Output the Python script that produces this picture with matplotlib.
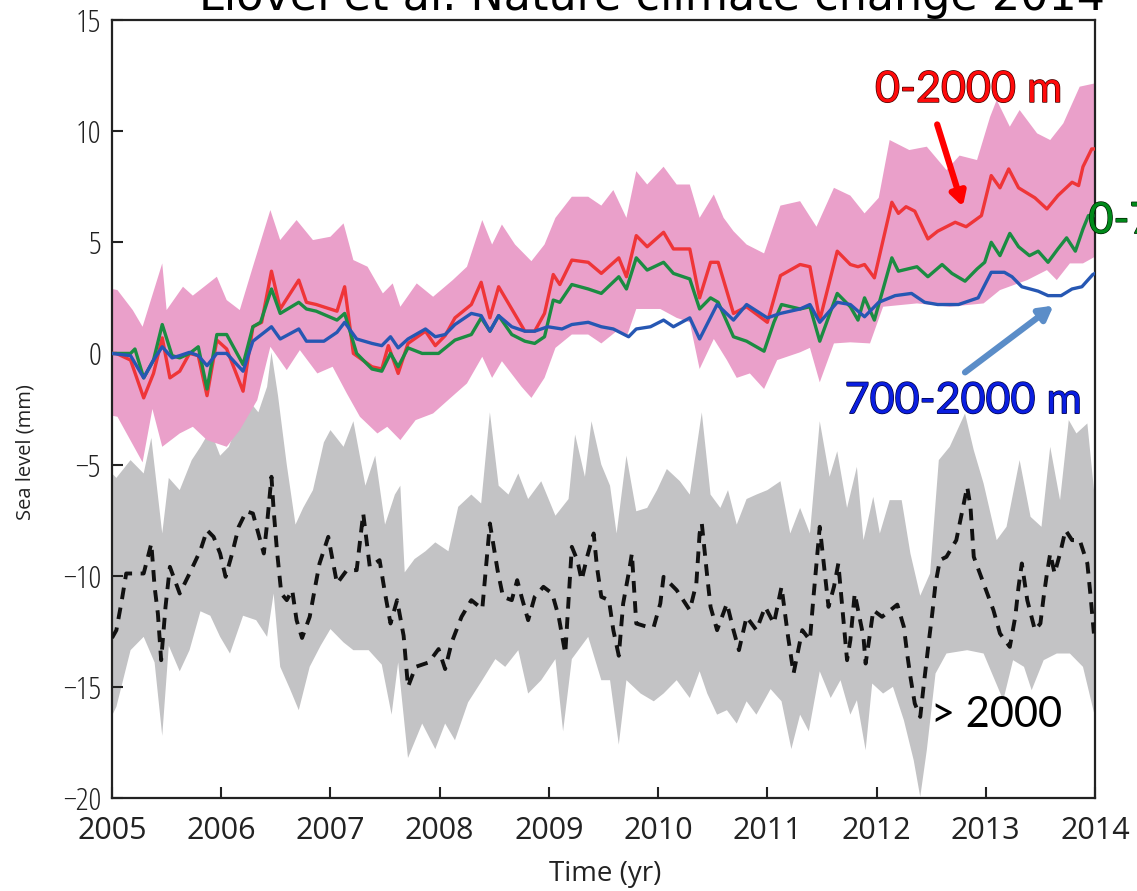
import matplotlib
matplotlib.use("Agg")
import matplotlib.pyplot as plt
import matplotlib.patheffects as pe
import numpy as np

# ---------------- data (time in decimal years, value in mm) ----------------
red_0_2000 = [
    (2005.00, 0.0), (2005.04, 0.0), (2005.17, -0.3), (2005.29, -2.0), (2005.38, -0.9),
    (2005.46, 0.7), (2005.53, -1.1), (2005.62, -0.8), (2005.71, 0.0), (2005.79, -0.1),
    (2005.87, -1.9), (2005.96, 0.6), (2006.05, 0.2), (2006.20, -1.7), (2006.29, 1.2),
    (2006.37, 1.4), (2006.46, 3.7), (2006.54, 2.0), (2006.71, 3.3), (2006.78, 2.3),
    (2006.87, 2.2), (2007.06, 1.9), (2007.13, 3.0), (2007.21, 0.0), (2007.38, -0.6),
    (2007.47, -0.7), (2007.53, 0.35), (2007.62, -0.9), (2007.71, 0.45), (2007.87, 1.0),
    (2007.96, 0.35), (2008.05, 0.8), (2008.14, 1.6), (2008.29, 2.2), (2008.38, 3.2),
    (2008.46, 1.6), (2008.54, 3.0), (2008.66, 2.0), (2008.78, 1.0), (2008.87, 1.0),
    (2008.96, 1.8), (2009.04, 3.55), (2009.10, 3.1), (2009.21, 4.2), (2009.36, 4.1),
    (2009.48, 3.6), (2009.64, 4.3), (2009.71, 3.45), (2009.80, 5.3), (2009.90, 4.8),
    (2010.05, 5.45), (2010.14, 4.7), (2010.29, 4.7), (2010.38, 2.5), (2010.48, 4.1),
    (2010.55, 4.1), (2010.69, 1.8), (2010.81, 2.1), (2011.00, 1.4), (2011.12, 3.5),
    (2011.30, 4.0), (2011.39, 3.9), (2011.48, 1.5), (2011.64, 4.6), (2011.76, 4.0),
    (2011.83, 3.9), (2011.89, 4.0), (2011.98, 3.4), (2012.14, 6.8), (2012.20, 6.3),
    (2012.27, 6.6), (2012.35, 6.4), (2012.47, 5.15), (2012.56, 5.5), (2012.72, 5.9),
    (2012.82, 5.7), (2012.96, 6.2), (2013.05, 8.0), (2013.13, 7.45), (2013.21, 8.3),
    (2013.30, 7.45), (2013.45, 7.0), (2013.56, 6.5), (2013.66, 7.1), (2013.79, 7.7),
    (2013.85, 7.55), (2013.89, 8.4), (2013.97, 9.2), (2014.00, 9.2),
]

green_0_700 = [
    (2005.00, 0.0), (2005.17, 0.0), (2005.21, 0.2), (2005.29, -1.1), (2005.38, -0.3),
    (2005.46, 1.3), (2005.55, -0.1), (2005.62, -0.2), (2005.71, 0.0), (2005.79, 0.3),
    (2005.87, -1.6), (2005.96, 0.85), (2006.05, 0.85), (2006.20, -0.5), (2006.29, 1.2),
    (2006.36, 1.4), (2006.46, 2.9), (2006.54, 1.8), (2006.71, 2.3), (2006.78, 2.0),
    (2006.87, 1.9), (2007.06, 1.5), (2007.13, 1.8), (2007.24, 0.0), (2007.38, -0.7),
    (2007.47, -0.8), (2007.55, 0.0), (2007.62, -0.6), (2007.71, 0.25), (2007.84, 0.0),
    (2007.99, 0.0), (2008.14, 0.6), (2008.29, 0.85), (2008.38, 1.6), (2008.46, 1.0),
    (2008.54, 1.7), (2008.66, 0.85), (2008.78, 0.55), (2008.87, 0.45), (2008.96, 0.75),
    (2009.04, 2.4), (2009.10, 2.3), (2009.21, 3.1), (2009.36, 2.9), (2009.48, 2.7),
    (2009.64, 3.45), (2009.71, 2.9), (2009.80, 4.3), (2009.90, 3.75), (2010.05, 4.1),
    (2010.14, 3.6), (2010.29, 3.35), (2010.38, 2.0), (2010.48, 2.5), (2010.55, 2.3),
    (2010.69, 0.75), (2010.81, 0.55), (2010.97, 0.1), (2011.06, 1.4), (2011.13, 2.2),
    (2011.30, 2.0), (2011.39, 2.1), (2011.48, 0.55), (2011.64, 2.7), (2011.76, 2.1),
    (2011.83, 1.5), (2011.89, 2.5), (2011.98, 1.5), (2012.14, 4.3), (2012.20, 3.7),
    (2012.37, 3.9), (2012.47, 3.45), (2012.60, 4.0), (2012.69, 3.6), (2012.81, 3.25),
    (2012.92, 3.8), (2012.99, 4.1), (2013.05, 5.0), (2013.13, 4.4), (2013.22, 5.4),
    (2013.30, 4.8), (2013.40, 4.4), (2013.48, 4.6), (2013.57, 4.1), (2013.66, 4.7),
    (2013.74, 5.2), (2013.82, 4.6), (2013.89, 5.6), (2013.94, 6.2), (2014.00, 6.2),
]

blue_700_2000 = [
    (2005.00, 0.0), (2005.17, -0.1), (2005.29, -1.1), (2005.38, -0.3), (2005.46, 0.3),
    (2005.55, -0.2), (2005.62, -0.1), (2005.71, 0.05), (2005.79, -0.1), (2005.87, -0.55),
    (2005.96, 0.0), (2006.05, 0.0), (2006.20, -0.8), (2006.29, 0.55), (2006.46, 1.2),
    (2006.54, 0.65), (2006.71, 1.1), (2006.78, 0.55), (2006.94, 0.55), (2007.06, 0.95),
    (2007.13, 1.4), (2007.24, 0.65), (2007.38, 0.45), (2007.47, 0.35), (2007.55, 0.75),
    (2007.62, 0.25), (2007.71, 0.65), (2007.87, 1.1), (2007.96, 0.75), (2008.05, 0.85),
    (2008.14, 1.3), (2008.29, 1.8), (2008.38, 1.7), (2008.46, 1.0), (2008.54, 1.7),
    (2008.66, 1.2), (2008.78, 1.0), (2008.87, 1.0), (2008.99, 1.2), (2009.12, 1.1),
    (2009.21, 1.3), (2009.36, 1.4), (2009.48, 1.2), (2009.59, 1.1), (2009.73, 0.75),
    (2009.80, 1.1), (2009.93, 1.2), (2010.05, 1.5), (2010.14, 1.2), (2010.29, 1.6),
    (2010.38, 0.65), (2010.54, 2.2), (2010.69, 1.5), (2010.81, 2.2), (2011.00, 1.6),
    (2011.12, 1.8), (2011.30, 2.0), (2011.39, 2.2), (2011.48, 1.4), (2011.64, 2.3),
    (2011.76, 2.2), (2011.89, 1.65), (2012.02, 2.3), (2012.17, 2.6), (2012.32, 2.7),
    (2012.44, 2.3), (2012.56, 2.2), (2012.75, 2.2), (2012.93, 2.5), (2013.05, 3.65),
    (2013.17, 3.65), (2013.24, 3.45), (2013.33, 3.0), (2013.48, 2.8), (2013.57, 2.6),
    (2013.69, 2.6), (2013.79, 2.9), (2013.88, 3.0), (2013.98, 3.55), (2014.00, 3.6),
]

pink_upper = [
    (2005.00, 2.9), (2005.05, 2.85), (2005.19, 1.95), (2005.28, 1.2), (2005.46, 4.05),
    (2005.50, 1.95), (2005.65, 3.0), (2005.74, 2.6), (2005.96, 3.45), (2006.05, 2.4),
    (2006.17, 1.95), (2006.29, 3.9), (2006.45, 6.45), (2006.54, 5.1), (2006.69, 6.0),
    (2006.84, 5.1), (2007.00, 5.25), (2007.12, 5.85), (2007.21, 4.2), (2007.34, 3.9),
    (2007.48, 2.7), (2007.57, 3.15), (2007.64, 2.1), (2007.79, 3.15), (2007.94, 2.55),
    (2008.12, 3.3), (2008.25, 3.9), (2008.39, 6.0), (2008.48, 4.9), (2008.57, 5.8),
    (2008.69, 4.9), (2008.84, 4.15), (2008.96, 4.9), (2009.06, 6.1), (2009.21, 7.05),
    (2009.36, 7.05), (2009.48, 6.65), (2009.59, 7.35), (2009.71, 6.1), (2009.80, 8.2),
    (2009.90, 7.6), (2010.05, 8.4), (2010.17, 7.6), (2010.29, 7.6), (2010.38, 6.1),
    (2010.51, 7.15), (2010.60, 6.1), (2010.69, 5.5), (2010.81, 4.9), (2010.97, 4.5),
    (2011.12, 6.65), (2011.30, 6.85), (2011.45, 5.7), (2011.61, 7.45), (2011.76, 7.1),
    (2011.89, 6.3), (2012.02, 7.0), (2012.12, 9.6), (2012.30, 9.15), (2012.46, 9.3),
    (2012.64, 8.25), (2012.76, 8.9), (2012.92, 8.7), (2013.04, 10.65), (2013.10, 11.4),
    (2013.22, 10.2), (2013.31, 10.95), (2013.47, 9.9), (2013.59, 9.6), (2013.71, 10.35),
    (2013.86, 12.0), (2014.00, 12.15),
]

pink_lower = [
    (2005.00, -2.8), (2005.05, -2.85), (2005.28, -4.9), (2005.37, -2.5), (2005.46, -4.2),
    (2005.62, -3.6), (2005.74, -3.3), (2005.87, -3.9), (2006.05, -4.2), (2006.17, -3.45),
    (2006.33, -2.1), (2006.45, 0.3), (2006.60, -0.75), (2006.72, 0.15), (2006.88, -0.9),
    (2007.02, -0.6), (2007.15, -1.8), (2007.27, -2.85), (2007.43, -3.6), (2007.52, -3.3),
    (2007.64, -3.9), (2007.78, -3.0), (2007.94, -2.7), (2008.10, -2.0), (2008.25, -1.35),
    (2008.39, -0.15), (2008.48, -1.1), (2008.57, -0.35), (2008.75, -1.5), (2008.84, -2.0),
    (2008.96, -1.1), (2009.06, 0.25), (2009.21, 0.85), (2009.36, 0.85), (2009.48, 0.45),
    (2009.62, 1.0), (2009.72, 0.85), (2009.80, 2.0), (2010.02, 2.0), (2010.17, 1.6),
    (2010.29, 1.4), (2010.38, -0.7), (2010.51, 0.65), (2010.63, -0.3), (2010.72, -1.1),
    (2010.84, -0.9), (2010.97, -1.6), (2011.09, -0.3), (2011.30, 0.05), (2011.39, 0.25),
    (2011.48, -1.3), (2011.61, 0.45), (2011.76, 0.5), (2011.94, 0.45), (2012.06, 2.1),
    (2012.37, 2.25), (2012.67, 2.1), (2012.98, 2.25), (2013.13, 2.85), (2013.38, 3.3),
    (2013.56, 3.75), (2013.65, 3.3), (2013.77, 4.05), (2013.89, 4.05), (2014.00, 4.35),
]

grey_upper = [
    (2005.00, -5.4), (2005.04, -5.6), (2005.17, -4.8), (2005.29, -5.4), (2005.36, -3.8),
    (2005.46, -8.1), (2005.52, -5.6), (2005.62, -6.15), (2005.73, -4.8), (2005.81, -4.2),
    (2005.90, -3.45), (2005.99, -4.6), (2006.07, -4.2), (2006.16, -3.05), (2006.25, -2.1),
    (2006.34, -2.65), (2006.42, -1.5), (2006.46, 0.05), (2006.52, -1.9), (2006.60, -5.0),
    (2006.68, -7.7), (2006.75, -6.95), (2006.84, -6.15), (2006.94, -4.0), (2007.00, -3.45),
    (2007.12, -4.2), (2007.21, -3.05), (2007.32, -5.95), (2007.41, -4.6), (2007.50, -7.7),
    (2007.59, -6.35), (2007.64, -5.95), (2007.68, -9.85), (2007.77, -9.25), (2007.87, -8.9),
    (2007.96, -8.5), (2008.08, -8.9), (2008.17, -6.9), (2008.29, -6.35), (2008.38, -6.75),
    (2008.46, -2.65), (2008.54, -5.95), (2008.63, -6.35), (2008.72, -5.4), (2008.81, -6.55),
    (2008.93, -5.75), (2009.06, -7.3), (2009.18, -6.55), (2009.24, -3.65), (2009.33, -5.55),
    (2009.39, -3.05), (2009.48, -5.0), (2009.56, -5.95), (2009.62, -8.1), (2009.71, -4.6),
    (2009.80, -7.1), (2009.90, -6.95), (2009.99, -6.15), (2010.08, -5.2), (2010.20, -5.75),
    (2010.29, -6.35), (2010.40, -2.65), (2010.48, -6.35), (2010.57, -6.95), (2010.64, -6.15),
    (2010.72, -7.7), (2010.81, -6.55), (2010.90, -6.35), (2011.00, -6.15), (2011.12, -5.75),
    (2011.21, -8.1), (2011.30, -6.95), (2011.39, -8.1), (2011.48, -3.05), (2011.57, -5.55),
    (2011.64, -4.4), (2011.73, -6.95), (2011.82, -5.1), (2011.88, -8.4), (2011.97, -6.45),
    (2012.03, -8.1), (2012.12, -6.6), (2012.23, -6.6), (2012.31, -9.0), (2012.40, -10.9),
    (2012.49, -9.9), (2012.57, -4.8), (2012.67, -4.2), (2012.81, -2.7), (2012.89, -4.35),
    (2012.98, -5.85), (2013.10, -8.4), (2013.19, -7.8), (2013.31, -4.8), (2013.41, -7.35),
    (2013.51, -7.8), (2013.59, -4.2), (2013.68, -6.6), (2013.76, -3.0), (2013.83, -3.6),
    (2013.93, -3.15), (2014.00, -6.6),
]

grey_lower = [
    (2005.00, -16.3), (2005.04, -15.9), (2005.17, -13.35), (2005.29, -12.75), (2005.39, -13.9),
    (2005.46, -17.2), (2005.52, -13.15), (2005.62, -14.3), (2005.71, -13.35), (2005.81, -11.6),
    (2005.90, -11.8), (2005.99, -12.75), (2006.08, -13.5), (2006.20, -11.8), (2006.32, -12.0),
    (2006.42, -12.75), (2006.48, -10.8), (2006.54, -14.1), (2006.63, -15.1), (2006.71, -16.05),
    (2006.81, -14.1), (2006.91, -13.15), (2007.00, -12.4), (2007.12, -13.0), (2007.21, -13.35),
    (2007.35, -13.35), (2007.47, -14.0), (2007.56, -16.25), (2007.62, -13.9), (2007.71, -18.2),
    (2007.84, -16.65), (2007.96, -17.8), (2008.05, -16.65), (2008.14, -17.4), (2008.26, -15.7),
    (2008.39, -14.7), (2008.51, -13.75), (2008.60, -14.1), (2008.72, -13.35), (2008.81, -15.3),
    (2008.93, -14.7), (2009.06, -13.75), (2009.13, -17.0), (2009.21, -13.75), (2009.36, -12.75),
    (2009.48, -14.7), (2009.56, -14.7), (2009.64, -17.6), (2009.71, -14.7), (2009.84, -15.3),
    (2009.96, -15.65), (2010.05, -15.3), (2010.17, -14.7), (2010.29, -15.5), (2010.38, -14.3),
    (2010.45, -15.3), (2010.54, -16.25), (2010.63, -16.05), (2010.72, -16.65), (2010.81, -15.65),
    (2010.90, -16.25), (2011.03, -15.1), (2011.13, -15.65), (2011.22, -17.8), (2011.30, -16.25),
    (2011.38, -17.0), (2011.48, -14.3), (2011.58, -15.5), (2011.67, -14.7), (2011.76, -16.25),
    (2011.82, -15.6), (2011.90, -17.85), (2011.96, -14.85), (2012.06, -15.3), (2012.15, -15.0),
    (2012.25, -16.5), (2012.34, -18.3), (2012.40, -19.95), (2012.46, -17.85), (2012.54, -14.4),
    (2012.64, -13.5), (2012.83, -13.35), (2012.98, -13.5), (2013.07, -14.55), (2013.16, -15.6),
    (2013.25, -13.8), (2013.35, -14.1), (2013.42, -15.15), (2013.53, -13.8), (2013.65, -13.5),
    (2013.77, -13.5), (2013.89, -14.1), (2014.00, -16.35),
]

black_below_2000 = [
    (2005.00, -12.8), (2005.04, -12.45), (2005.09, -11.1), (2005.13, -9.9), (2005.29, -9.9),
    (2005.36, -8.55), (2005.39, -10.5), (2005.42, -11.7), (2005.45, -13.8), (2005.49, -11.4),
    (2005.53, -9.6), (2005.62, -10.8), (2005.71, -9.9), (2005.81, -8.85), (2005.87, -7.95),
    (2005.93, -8.25), (2005.99, -9.0), (2006.04, -10.05), (2006.10, -9.0), (2006.16, -7.8),
    (2006.23, -7.1), (2006.29, -7.2), (2006.34, -8.1), (2006.39, -9.0), (2006.42, -7.65),
    (2006.46, -5.55), (2006.48, -7.05), (2006.51, -8.85), (2006.55, -10.8), (2006.60, -11.1),
    (2006.65, -10.65), (2006.69, -12.0), (2006.74, -12.8), (2006.81, -11.85), (2006.86, -10.5),
    (2006.90, -9.45), (2006.98, -8.25), (2007.06, -10.35), (2007.15, -9.75), (2007.24, -9.75),
    (2007.30, -7.2), (2007.33, -8.4), (2007.36, -9.6), (2007.45, -9.3), (2007.50, -10.8),
    (2007.55, -12.15), (2007.61, -11.1), (2007.67, -12.7), (2007.71, -15.0), (2007.78, -14.1),
    (2007.90, -13.9), (2007.99, -13.3), (2008.05, -14.2), (2008.11, -13.0), (2008.20, -11.85),
    (2008.29, -11.1), (2008.39, -11.5), (2008.46, -7.65), (2008.53, -9.75), (2008.58, -10.95),
    (2008.66, -11.1), (2008.71, -10.2), (2008.75, -10.95), (2008.81, -12.0), (2008.87, -10.95),
    (2008.95, -10.5), (2009.03, -10.8), (2009.09, -11.85), (2009.15, -13.5), (2009.18, -11.1),
    (2009.21, -8.7), (2009.26, -9.3), (2009.30, -10.2), (2009.35, -9.15), (2009.41, -8.1),
    (2009.44, -9.6), (2009.48, -10.95), (2009.55, -11.1), (2009.59, -12.45), (2009.64, -13.6),
    (2009.68, -11.25), (2009.73, -9.9), (2009.76, -9.0), (2009.80, -12.15), (2009.90, -12.3),
    (2009.96, -12.3), (2010.02, -11.25), (2010.05, -10.05), (2010.17, -10.65), (2010.29, -11.55),
    (2010.35, -10.35), (2010.38, -8.1), (2010.40, -7.65), (2010.45, -10.05), (2010.48, -11.4),
    (2010.54, -12.45), (2010.63, -11.25), (2010.69, -12.45), (2010.74, -13.35), (2010.81, -11.85),
    (2010.90, -12.45), (2010.98, -11.4), (2011.06, -12.15), (2011.13, -10.5), (2011.19, -12.75),
    (2011.24, -14.4), (2011.32, -12.45), (2011.39, -12.9), (2011.42, -11.1), (2011.48, -7.8),
    (2011.51, -9.15), (2011.56, -11.4), (2011.61, -10.5), (2011.65, -9.45), (2011.68, -11.1),
    (2011.73, -13.8), (2011.76, -12.9), (2011.80, -10.8), (2011.88, -12.75), (2011.90, -13.95),
    (2011.94, -12.6), (2011.97, -11.55), (2012.05, -11.85), (2012.19, -11.3), (2012.25, -12.3),
    (2012.28, -13.5), (2012.31, -14.55), (2012.35, -15.75), (2012.40, -16.35), (2012.43, -15.0),
    (2012.48, -12.9), (2012.51, -11.7), (2012.54, -10.35), (2012.58, -9.3), (2012.64, -9.15),
    (2012.73, -8.4), (2012.78, -7.2), (2012.83, -6.0), (2012.86, -6.9), (2012.89, -9.15),
    (2012.98, -10.35), (2013.07, -11.55), (2013.13, -12.6), (2013.22, -13.2), (2013.27, -11.85),
    (2013.30, -10.5), (2013.33, -9.45), (2013.38, -11.1), (2013.45, -12.45), (2013.50, -12.15),
    (2013.53, -10.95), (2013.56, -9.9), (2013.59, -9.0), (2013.63, -9.9), (2013.68, -9.0),
    (2013.73, -7.95), (2013.79, -8.4), (2013.86, -8.4), (2013.93, -9.45), (2013.96, -10.95),
    (2013.99, -12.6),
]

x_ticks = [2005, 2006, 2007, 2008, 2009, 2010, 2011, 2012, 2013, 2014]
y_ticks = [-20, -15, -10, -5, 0, 5, 10, 15]

title_text = "Llovel et al. Nature climate change 2014"
label_red = "0-2000 m"
label_green = "0-700 m"
label_blue = "700-2000 m"
label_black = "> 2000"

# ---------------- figure ----------------
W, H = 1137, 891
fig = plt.figure(figsize=(W / 100, H / 100), dpi=100)
fig.patch.set_facecolor("white")
ax = fig.add_axes([112 / W, 1 - 798 / H, (1095 - 112) / W, (798 - 20) / H])


def xy(series):
    a = np.array(series, dtype=float)
    return a[:, 0], a[:, 1]


def band(ax, upper, lower, color, z):
    tu, vu = xy(upper)
    tl, vl = xy(lower)
    ax.fill(np.concatenate([tu, tl[::-1]]), np.concatenate([vu, vl[::-1]]),
            color=color, lw=0, zorder=z)


band(ax, grey_upper, grey_lower, "#c3c3c5", 1)
band(ax, pink_upper, pink_lower, "#eaa0ca", 2)

t, v = xy(black_below_2000)
ax.plot(t, v, color="#111111", lw=2.8, ls=(0, (3.0, 2.2)), zorder=3)

t, v = xy(red_0_2000)
ax.plot(t, v, color="#ef3538", lw=2.4, zorder=4)
t, v = xy(green_0_700)
ax.plot(t, v, color="#1b8c42", lw=2.4, zorder=5)
t, v = xy(blue_700_2000)
ax.plot(t, v, color="#2657b3", lw=2.4, zorder=6)

ax.set_xlim(2005, 2014)
ax.set_ylim(-20, 15)
ax.set_xticks(x_ticks)
ax.set_yticks(y_ticks)
ax.set_xticklabels([str(x) for x in x_ticks])
ax.set_yticklabels([("\u2212" + str(-y)) if y < 0 else str(y) for y in y_ticks])
ax.tick_params(direction="in", length=8, width=1.5, top=False, right=False,
               colors="#222222")
ax.tick_params(axis="x", pad=13, labelsize=22)
ax.tick_params(axis="y", pad=8, labelsize=23)
for lab in ax.get_xticklabels():
    lab.set_family(["Open Sans", "DejaVu Sans"])
for lab in ax.get_yticklabels():
    lab.set_family(["Open Sans", "DejaVu Sans"])
    lab.set_stretch("condensed")
for s in ax.spines.values():
    s.set_linewidth(1.6)
    s.set_color("#222222")

fig.text(605 / W, 1 - 874 / H, "Time (yr)", ha="center", va="center",
         fontsize=20, family=["Open Sans", "DejaVu Sans"], color="#222222")
fig.text(26 / W, 1 - 452 / H, "Sea level (mm)", ha="center", va="center", rotation=90,
         fontsize=14.5, family=["Open Sans", "DejaVu Sans"], color="#222222")

# title (cut off at the top edge of the picture, as in the reference)
fig.text(652 / W, 1 - 10 / H, title_text, ha="center", va="baseline",
         fontsize=32, family=["DejaVu Sans"], color="black")

# annotations
ax.text(2012.84, 11.85, label_red, color="#ff0a0a", fontsize=31, family=["Lato", "DejaVu Sans"],
        ha="center", va="center",
        path_effects=[pe.withStroke(linewidth=1.0, foreground="#400000")], zorder=10)
ax.annotate("", xy=(2012.79, 6.6), xytext=(2012.555, 10.3),
            arrowprops=dict(arrowstyle="-|>,head_length=0.8,head_width=0.45", color="#ff0000",
                            lw=4.5, shrinkA=0, shrinkB=0), zorder=10)
ax.text(2013.94, 5.95, label_green, color="#008a1a", fontsize=31, family=["Lato", "DejaVu Sans"],
        ha="left", va="center", clip_on=False,
        path_effects=[pe.withStroke(linewidth=1.0, foreground="#002000")], zorder=10)
ax.text(2012.79, -2.15, label_blue, color="#0a1ee0", fontsize=31, family=["Lato", "DejaVu Sans"],
        ha="center", va="center",
        path_effects=[pe.withStroke(linewidth=1.0, foreground="#000040")], zorder=10)
ax.annotate("", xy=(2013.62, 2.15), xytext=(2012.81, -0.85),
            arrowprops=dict(arrowstyle="-|>,head_length=0.8,head_width=0.45", color="#5b8dc8",
                            lw=4.5, shrinkA=0, shrinkB=0), zorder=10)
ax.text(2012.50, -16.25, label_black, color="black", fontsize=30, family=["Lato", "DejaVu Sans"],
        ha="left", va="center", zorder=10)

fig.savefig("out.png", dpi=100, facecolor="white")
